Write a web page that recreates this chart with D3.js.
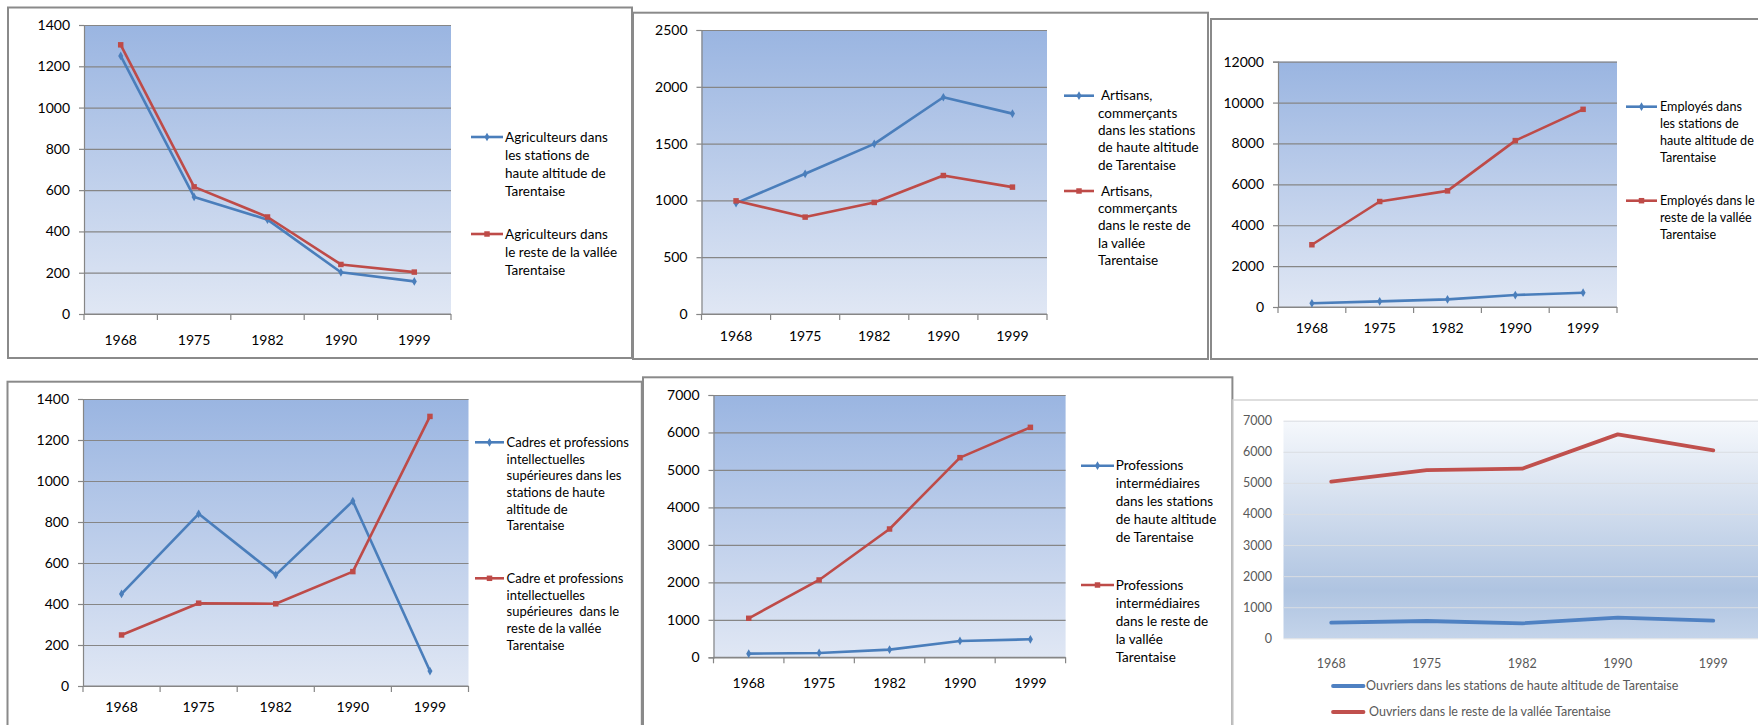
<!DOCTYPE html>
<html><head><meta charset="utf-8">
<script src="https://cdn.jsdelivr.net/npm/d3@7/dist/d3.min.js"></script>
<style>
html,body{margin:0;padding:0;background:#fff;overflow:hidden;}
svg{display:block;}
</style></head>
<body>
<svg id="c" width="1758" height="725"></svg>
<script>
// ---------- DATA ----------
const years = ["1968", "1975", "1982", "1990", "1999"];

const agriStations = [1250, 567, 457, 202, 158];
const agriVallee   = [1304, 616, 470, 240, 203];

const artisansStations = [976, 1234, 1498, 1908, 1764];
const artisansVallee   = [996, 853, 982, 1219, 1117];

const employesStations = [180, 277, 374, 586, 700];
const employesVallee   = [3045, 5160, 5680, 8140, 9670];

const cadresStations = [449, 840, 542, 902, 73];
const cadresVallee   = [249, 404, 401, 558, 1315];

const profIntStations = [98, 116, 205, 436, 480];
const profIntVallee   = [1041, 2064, 3424, 5328, 6137];

const ouvriersStations = [504, 557, 482, 665, 568];
const ouvriersVallee   = [5038, 5413, 5456, 6561, 6046];

const ticksAgri     = [0, 200, 400, 600, 800, 1000, 1200, 1400];
const ticksArtisans = [0, 500, 1000, 1500, 2000, 2500];
const ticksEmployes = [0, 2000, 4000, 6000, 8000, 10000, 12000];
const ticksCadres   = [0, 200, 400, 600, 800, 1000, 1200, 1400];
const ticksProfInt  = [0, 1000, 2000, 3000, 4000, 5000, 6000, 7000];
const ticksOuvriers = [0, 1000, 2000, 3000, 4000, 5000, 6000, 7000];

const legendAgri = [
  ["Agriculteurs dans", "les stations de", "haute altitude de", "Tarentaise"],
  ["Agriculteurs dans", "le reste de la vallée", "Tarentaise"]
];
const legendArtisans = [
  ["Artisans,", "commerçants", "dans les stations", "de haute altitude", "de Tarentaise"],
  ["Artisans,", "commerçants", "dans le reste de", "la vallée", "Tarentaise"]
];
const legendEmployes = [
  ["Employés dans", "les stations de", "haute altitude de", "Tarentaise"],
  ["Employés dans le", "reste de la vallée", "Tarentaise"]
];
const legendCadres = [
  ["Cadres et professions", "intellectuelles", "supérieures dans les", "stations de haute", "altitude de", "Tarentaise"],
  ["Cadre et professions", "intellectuelles", "supérieures  dans le", "reste de la vallée", "Tarentaise"]
];
const legendProfInt = [
  ["Professions", "intermédiaires", "dans les stations", "de haute altitude", "de Tarentaise"],
  ["Professions", "intermédiaires", "dans le reste de", "la vallée", "Tarentaise"]
];
const legendOuvriers = [
  ["Ouvriers dans les stations de haute altitude de Tarentaise"],
  ["Ouvriers dans le reste de la vallée Tarentaise"]
];

// ---------- STYLE / LAYOUT ----------
const FONT = "Lato, 'Open Sans', sans-serif";
const BLUE = "#4a7ebb", RED = "#be4b48";
const BLUE6 = "#4f81c2", RED6 = "#c0504d";

const svg = d3.select("#c");
const defs = svg.append("defs");

(function () {
  const g = defs.append("linearGradient").attr("id", "gOld")
    .attr("x1", 0).attr("y1", 0).attr("x2", 0).attr("y2", 1);
  g.append("stop").attr("offset", "0%").attr("stop-color", "#9ab5e1");
  g.append("stop").attr("offset", "100%").attr("stop-color", "#e0e7f4");
})();
(function () {
  const g = defs.append("linearGradient").attr("id", "gNew")
    .attr("x1", 0).attr("y1", 0).attr("x2", 0).attr("y2", 1);
  g.append("stop").attr("offset", "0%").attr("stop-color", "#f5f8fc");
  g.append("stop").attr("offset", "30%").attr("stop-color", "#dbe4f1");
  g.append("stop").attr("offset", "78%").attr("stop-color", "#afc4e1");
  g.append("stop").attr("offset", "100%").attr("stop-color", "#c4d4ea");
})();

const charts = [
  { box: [8, 7.5, 632, 358], plot: [84, 25, 451, 314], ticks: ticksAgri,
    series: [agriStations, agriVallee], legend: legendAgri,
    leg: { x1: 471, x2: 503, tx: 505, y: [137, 234], dy: 18, fs: 13.5 },
    xLabY: 340, fs: 14 },
  { box: [633, 12.7, 1208, 359], plot: [701.5, 30, 1047, 314], ticks: ticksArtisans,
    series: [artisansStations, artisansVallee], legend: legendArtisans,
    leg: { x1: 1064, x2: 1094, tx: 1098, y: [95.7, 191], dy: 17.3, fs: 13.5, firstDx: 3 },
    xLabY: 336, fs: 14 },
  { box: [1211, 19, 1775, 359], plot: [1278, 61.7, 1617, 307], ticks: ticksEmployes,
    series: [employesStations, employesVallee], legend: legendEmployes,
    leg: { x1: 1626, x2: 1657, tx: 1660, y: [106.7, 200.7], dy: 17, fs: 12.6 },
    xLabY: 328, fs: 14 },
  { box: [7.5, 381.7, 641.8, 740], plot: [83, 399, 468.5, 686], ticks: ticksCadres,
    series: [cadresStations, cadresVallee], legend: legendCadres,
    leg: { x1: 475, x2: 504, tx: 506.6, y: [442.3, 578.3], dy: 16.7, fs: 13 },
    xLabY: 706.7, fs: 14 },
  { box: [643, 377.3, 1232.4, 740], plot: [713.5, 395, 1065.6, 657.3], ticks: ticksProfInt,
    series: [profIntStations, profIntVallee], legend: legendProfInt,
    leg: { x1: 1081, x2: 1114, tx: 1115.7, y: [465.7, 585], dy: 18, fs: 13.5 },
    xLabY: 683, fs: 14 }
];

function drawOld(c) {
  const g = svg.append("g");
  const [bx0, by0, bx1, by1] = c.box;
  g.append("rect").attr("x", bx0).attr("y", by0)
    .attr("width", bx1 - bx0).attr("height", by1 - by0)
    .attr("fill", "#fff").attr("stroke", "#8a8a8a").attr("stroke-width", 2);

  const [px0, py0, px1, py1] = c.plot;
  const x = d3.scaleBand().domain(years).range([px0, px1]).padding(0);
  const y = d3.scaleLinear().domain([0, d3.max(c.ticks)]).range([py1, py0]);

  g.append("rect").attr("x", px0).attr("y", py0)
    .attr("width", px1 - px0).attr("height", py1 - py0).attr("fill", "url(#gOld)");

  g.append("g").attr("transform", `translate(${px0},0)`)
    .call(d3.axisLeft(y).tickValues(c.ticks).tickSize(-(px1 - px0)).tickFormat(""))
    .call(s => s.select(".domain").remove())
    .call(s => s.selectAll("line").attr("stroke", "#868686").attr("stroke-width", 1.2));

  g.append("g").attr("transform", `translate(${px0},0)`)
    .call(d3.axisLeft(y).tickValues(c.ticks).tickSize(5).tickPadding(9).tickFormat(d3.format("d")))
    .call(s => s.select(".domain").attr("stroke", "#868686").attr("stroke-width", 1.2))
    .call(s => s.selectAll("line").attr("stroke", "#868686").attr("stroke-width", 1.2))
    .call(s => s.selectAll("text").attr("font-family", FONT).attr("font-size", c.fs).attr("fill", "#000"));

  g.append("line").attr("x1", px0).attr("x2", px1).attr("y1", y(0)).attr("y2", y(0))
    .attr("stroke", "#868686").attr("stroke-width", 1.2);
  const bounds = years.map(d => x(d)).concat([px1]);
  g.selectAll(".xt").data(bounds).join("line")
    .attr("x1", d => d).attr("x2", d => d).attr("y1", y(0)).attr("y2", y(0) + 6)
    .attr("stroke", "#868686").attr("stroke-width", 1.2);
  g.selectAll(".xl").data(years).join("text")
    .attr("x", d => x(d) + x.bandwidth() / 2).attr("y", c.xLabY)
    .attr("dy", "0.35em").attr("text-anchor", "middle")
    .attr("font-family", FONT).attr("font-size", c.fs).attr("fill", "#000")
    .text(d => d);

  const colors = [BLUE, RED];
  const line = d3.line().x((d, i) => x(years[i]) + x.bandwidth() / 2).y(d => y(d));
  c.series.forEach((s, si) => {
    g.append("path").datum(s).attr("d", line).attr("fill", "none")
      .attr("stroke", colors[si]).attr("stroke-width", 2.6)
      .attr("stroke-linejoin", "round").attr("stroke-linecap", "round");
    const sym = si === 0 ? d3.symbol(d3.symbolDiamond, 22) : d3.symbol(d3.symbolSquare, 30);
    g.selectAll(null).data(s).join("path")
      .attr("d", sym)
      .attr("transform", (d, i) => `translate(${x(years[i]) + x.bandwidth() / 2},${y(d)})`)
      .attr("fill", colors[si]).attr("stroke", "none");
  });

  const L = c.leg;
  c.legend.forEach((lines, li) => {
    const yy = L.y[li];
    g.append("line").attr("x1", L.x1).attr("x2", L.x2).attr("y1", yy).attr("y2", yy)
      .attr("stroke", colors[li]).attr("stroke-width", 2.6);
    const sym = li === 0 ? d3.symbol(d3.symbolDiamond, 22) : d3.symbol(d3.symbolSquare, 30);
    g.append("path").attr("d", sym).attr("transform", `translate(${(L.x1 + L.x2) / 2},${yy})`)
      .attr("fill", colors[li]);
    const t = g.append("text").attr("font-family", FONT).attr("font-size", L.fs).attr("fill", "#000")
      .attr("xml:space", "preserve");
    lines.forEach((ln, k) => {
      t.append("tspan").attr("x", L.tx + (k === 0 && L.firstDx ? L.firstDx : 0))
        .attr("y", yy + k * L.dy).attr("dy", "0.35em").text(ln);
    });
  });
}

charts.forEach(drawOld);

// ---------- Chart 6 (newer style) ----------
(function () {
  const g = svg.append("g");
  g.append("rect").attr("x", 1233).attr("y", 400).attr("width", 600).attr("height", 400)
    .attr("fill", "#fff").attr("stroke", "#d4d4d4").attr("stroke-width", 1.5);
  const px0 = 1283.5, py0 = 420.7, px1 = 1761, py1 = 638.3;
  const x = d3.scaleBand().domain(years).range([px0, px1]).padding(0);
  const y = d3.scaleLinear().domain([0, d3.max(ticksOuvriers)]).range([py1, py0]);
  g.append("rect").attr("x", px0).attr("y", py0).attr("width", px1 - px0).attr("height", py1 - py0)
    .attr("fill", "url(#gNew)");
  g.append("g").attr("transform", `translate(${px0},0)`)
    .call(d3.axisLeft(y).tickValues(ticksOuvriers).tickSize(-(px1 - px0)).tickFormat(""))
    .call(s => s.select(".domain").remove())
    .call(s => s.selectAll("line").attr("stroke", "#dadde2").attr("stroke-width", 1));
  g.append("g").attr("transform", `translate(${px0},0)`)
    .call(d3.axisLeft(y).tickValues(ticksOuvriers).tickSize(0).tickPadding(11.5).tickFormat(d3.format("d")))
    .call(s => s.select(".domain").remove())
    .call(s => s.selectAll("text").attr("font-family", FONT).attr("font-size", 12.5).attr("fill", "#595959"));
  g.selectAll(".xl6").data(years).join("text")
    .attr("x", d => x(d) + x.bandwidth() / 2).attr("y", 664).attr("dy", "0.35em")
    .attr("text-anchor", "middle").attr("font-family", FONT).attr("font-size", 12.5).attr("fill", "#595959")
    .text(d => d);
  const line = d3.line().x((d, i) => x(years[i]) + x.bandwidth() / 2).y(d => y(d));
  const cols = [BLUE6, RED6];
  [ouvriersStations, ouvriersVallee].forEach((s, si) => {
    g.append("path").datum(s).attr("d", line).attr("fill", "none")
      .attr("stroke", cols[si]).attr("stroke-width", 3.8)
      .attr("stroke-linejoin", "round").attr("stroke-linecap", "round");
  });
  const ly = [686, 712];
  legendOuvriers.forEach((ln, li) => {
    g.append("line").attr("x1", 1333).attr("x2", 1363.5).attr("y1", ly[li]).attr("y2", ly[li])
      .attr("stroke", cols[li]).attr("stroke-width", 3.8).attr("stroke-linecap", "round");
    g.append("text").attr("x", 1366 + (li === 1 ? 3 : 0)).attr("y", ly[li]).attr("dy", "0.35em")
      .attr("font-family", FONT).attr("font-size", 12.5).attr("fill", "#595959")
      .text(ln[0]);
  });
})();
</script>
</body></html>
